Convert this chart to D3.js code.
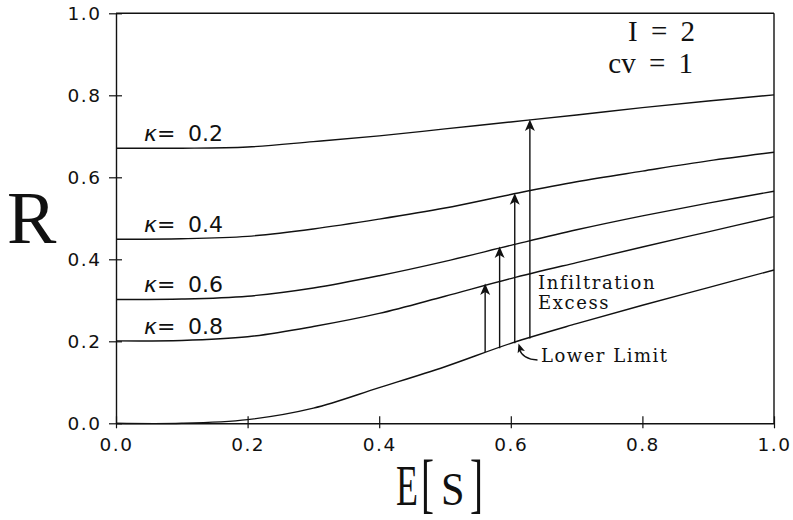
<!DOCTYPE html>
<html>
<head>
<meta charset="utf-8">
<script src="https://cdn.jsdelivr.net/npm/d3@7"></script>
<style>
  html, body { margin: 0; padding: 0; background: #fff; }
  svg { display: block; }
</style>
</head>
<body>
<svg id="chart" width="793" height="520"></svg>
<script>
// Runoff ratio R versus mean soil saturation E[S] for several kappa values
const esGrid      = [0, 0.1, 0.2, 0.3, 0.4, 0.5, 0.6, 0.7, 0.8, 0.9, 1.0];
const rKappa02    = [0.671, 0.671, 0.674, 0.687, 0.701, 0.718, 0.735, 0.752, 0.770, 0.786, 0.801];
const rKappa04    = [0.449, 0.450, 0.456, 0.474, 0.498, 0.525, 0.558, 0.589, 0.615, 0.640, 0.661];
const rKappa06    = [0.302, 0.303, 0.310, 0.330, 0.360, 0.395, 0.434, 0.472, 0.506, 0.537, 0.566];
const rKappa08    = [0.201, 0.202, 0.211, 0.236, 0.268, 0.310, 0.353, 0.392, 0.430, 0.467, 0.504];
const rLowerLimit = [0.000, 0.000, 0.009, 0.037, 0.087, 0.138, 0.195, 0.243, 0.288, 0.331, 0.374];

const kappaLabels = ["0.2", "0.4", "0.6", "0.8"];
const kappaSeries = [rKappa02, rKappa04, rKappa06, rKappa08];

// Infiltration-excess arrows: from the lower limit up to each kappa curve
const arrowEs   = [0.561, 0.583, 0.606, 0.629];
const arrowFrom = [0.174, 0.183, 0.195, 0.207];
const arrowTo   = [0.341, 0.431, 0.561, 0.741];

const xTicks = [0, 0.2, 0.4, 0.6, 0.8, 1.0];
const yTicks = [0, 0.2, 0.4, 0.6, 0.8, 1.0];

const svg = d3.select("#chart");
const plotLeft = 116, plotRight = 774, plotTop = 13.3, plotBottom = 423.3;

const x = d3.scaleLinear().domain([0, 1]).range([plotLeft, plotRight]);
const y = d3.scaleLinear().domain([0, 1]).range([plotBottom, plotTop]);

const ink = "#111";
const tickFont = "'DejaVu Sans', sans-serif";
const serif = "'DejaVu Serif', serif";

// Frame: top and right edges
svg.append("line").attr("x1", plotLeft).attr("x2", plotRight).attr("y1", plotTop).attr("y2", plotTop)
  .attr("stroke", ink).attr("stroke-width", 1.4);
svg.append("line").attr("x1", plotRight).attr("x2", plotRight).attr("y1", plotTop).attr("y2", plotBottom)
  .attr("stroke", ink).attr("stroke-width", 1.4);

// Axes
const fmt = d3.format(".1f");
const gx = svg.append("g").attr("transform", `translate(0,${plotBottom})`)
  .call(d3.axisBottom(x).tickValues(xTicks).tickFormat(fmt).tickSizeInner(5).tickSizeOuter(0).tickPadding(10));
const gy = svg.append("g").attr("transform", `translate(${plotLeft},0)`)
  .call(d3.axisLeft(y).tickValues(yTicks).tickFormat(fmt).tickSizeInner(7).tickSizeOuter(0).tickPadding(9));

[gx, gy].forEach(g => {
  g.select(".domain").attr("stroke", ink).attr("stroke-width", 1.4);
  g.selectAll(".tick line").attr("stroke", ink).attr("stroke-width", 1.2);
  g.selectAll(".tick text").attr("fill", ink)
    .style("font-family", tickFont).style("font-size", "18.5px").style("letter-spacing", "1.5px");
});
// ticks cross the axis line
gx.selectAll(".tick line").attr("y1", -7).attr("y2", 5);
gy.selectAll(".tick line").attr("x1", 6).attr("x2", -7);
gy.selectAll(".tick text").attr("dx", "1.5px");

// Curves
const line = d3.line()
  .x((d, i) => x(esGrid[i]))
  .y(d => y(d))
  .curve(d3.curveCatmullRom.alpha(0.5));

const curves = svg.append("g").attr("fill", "none").attr("stroke", ink).attr("stroke-width", 1.4);
kappaSeries.forEach(s => curves.append("path").attr("d", line(s)));
curves.append("path").attr("d", line(rLowerLimit));

// Kappa labels
kappaSeries.forEach((s, i) => {
  const t = svg.append("text").attr("y", y(s[0]) - 7)
    .attr("fill", ink).style("font-family", tickFont).style("font-size", "22px");
  t.append("tspan").attr("x", 144).style("font-style", "italic").text("κ");
  t.append("tspan").text("=");
  t.append("tspan").attr("x", 188).text(kappaLabels[i]);
});

// Arrows
const head = "M0,0 L-5,11.5 L0,8.5 L5,11.5 Z";
arrowEs.forEach((e, i) => {
  svg.append("line")
    .attr("x1", x(e)).attr("x2", x(e))
    .attr("y1", y(arrowFrom[i])).attr("y2", y(arrowTo[i]) + 4)
    .attr("stroke", ink).attr("stroke-width", 1.4);
  svg.append("path").attr("d", head)
    .attr("transform", `translate(${x(e)},${y(arrowTo[i])})`)
    .attr("fill", ink);
});

// Annotations
svg.append("text").attr("x", 538).attr("y", 289)
  .attr("fill", ink).style("font-family", serif).style("font-size", "18px").style("letter-spacing", "1.6px")
  .text("Infiltration");
svg.append("text").attr("x", 538).attr("y", 309)
  .attr("fill", ink).style("font-family", serif).style("font-size", "18px").style("letter-spacing", "1.6px")
  .text("Excess");
svg.append("text").attr("x", 541).attr("y", 362)
  .attr("fill", ink).style("font-family", serif).style("font-size", "18px").style("letter-spacing", "1.5px")
  .text("Lower Limit");

// Hooked pointer to the lower-limit curve
const tipX = 518.5, tipY = 343.5;
svg.append("path")
  .attr("d", `M${tipX + 1},${tipY + 6} C${tipX + 3},${tipY + 12} ${tipX + 8},${tipY + 16} ${tipX + 19},${tipY + 16.5}`)
  .attr("fill", "none").attr("stroke", ink).attr("stroke-width", 1.3);
svg.append("path").attr("d", "M0,0 L-3.8,9 L0,7 L3.8,9 Z")
  .attr("transform", `translate(${tipX},${tipY}) rotate(-18)`)
  .attr("fill", ink);

// Parameter box text
const paramFont = "'Liberation Serif', serif";
svg.append("text").attr("x", 695).attr("y", 41).attr("text-anchor", "end")
  .attr("fill", ink).style("font-family", paramFont).style("font-size", "29px").style("word-spacing", "6px")
  .text("I = 2");
svg.append("text").attr("x", 693).attr("y", 73).attr("text-anchor", "end")
  .attr("fill", ink).style("font-family", paramFont).style("font-size", "29px").style("word-spacing", "6px")
  .text("cv = 1");

// Axis titles
svg.append("text").attr("x", 7).attr("y", 243)
  .attr("fill", ink).style("font-family", paramFont).style("font-size", "74px")
  .text("R");

const xTitle = svg.append("g").attr("fill", ink).style("font-family", paramFont);
xTitle.append("text").attr("transform", "translate(396,505) scale(0.62,1)")
  .style("font-size", "58px").text("E");
xTitle.append("text").attr("transform", "translate(421,505) scale(0.6,1)")
  .style("font-size", "65px").text("[");
xTitle.append("text").attr("transform", "translate(441,505) scale(0.9,1)")
  .style("font-size", "47px").text("S");
xTitle.append("text").attr("transform", "translate(470,505) scale(0.6,1)")
  .style("font-size", "65px").text("]");
</script>
</body>
</html>
